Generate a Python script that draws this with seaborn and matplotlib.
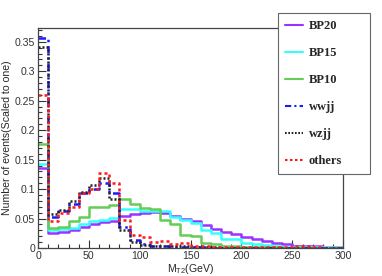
import numpy as np
import pandas as pd
import seaborn as sns
import matplotlib.pyplot as plt
from matplotlib.lines import Line2D
from matplotlib.ticker import MultipleLocator, FormatStrFormatter

# M_T2 histograms, 10 GeV bins from 0 to 300, each scaled to one
n_bins = 30
mt2_range = (0, 300)
bin_centers = np.arange(5, 300, 10)

bp20 = [0.136, 0.025, 0.028, 0.030, 0.036, 0.040, 0.044, 0.046, 0.055, 0.058,
        0.060, 0.061, 0.059, 0.055, 0.049, 0.045, 0.039, 0.032, 0.028, 0.024,
        0.019, 0.015, 0.012, 0.008, 0.006, 0.004, 0.003, 0.003, 0.002, 0.002]
bp15 = [0.142, 0.030, 0.033, 0.034, 0.040, 0.045, 0.048, 0.051, 0.066, 0.066,
        0.062, 0.062, 0.062, 0.053, 0.047, 0.042, 0.030, 0.025, 0.015, 0.015,
        0.009, 0.007, 0.005, 0.003, 0.002, 0.002, 0.001, 0.001, 0.001, 0.001]
bp10 = [0.177, 0.034, 0.036, 0.045, 0.053, 0.070, 0.069, 0.073, 0.084, 0.075,
        0.068, 0.066, 0.048, 0.040, 0.022, 0.021, 0.008, 0.007, 0.004, 0.003,
        0.002, 0.001, 0.001, 0.001, 0.000, 0.000, 0.000, 0.000, 0.000, 0.000]
wwjj = [0.356, 0.053, 0.062, 0.075, 0.093, 0.100, 0.111, 0.094, 0.035, 0.013,
        0.006, 0.004, 0.003, 0.002, 0.002, 0.001, 0.001, 0.000, 0.000, 0.000,
        0.000, 0.000, 0.000, 0.000, 0.000, 0.000, 0.000, 0.000, 0.000, 0.000]
wzjj = [0.341, 0.058, 0.065, 0.079, 0.095, 0.107, 0.119, 0.084, 0.030, 0.011,
        0.005, 0.004, 0.003, 0.003, 0.004, 0.002, 0.001, 0.001, 0.000, 0.000,
        0.000, 0.000, 0.000, 0.000, 0.000, 0.000, 0.000, 0.000, 0.000, 0.000]
others = [0.260, 0.046, 0.060, 0.070, 0.093, 0.100, 0.127, 0.110, 0.047, 0.022,
          0.018, 0.010, 0.012, 0.006, 0.009, 0.004, 0.003, 0.002, 0.002, 0.001,
          0.001, 0.001, 0.001, 0.001, 0.001, 0.003, 0.003, 0.001, 0.000, 0.000]

samples = ['BP20', 'BP15', 'BP10', 'wwjj', 'wzjj', 'others']
values = [bp20, bp15, bp10, wwjj, wzjj, others]
colors = ['#9933ff', '#33ffff', '#66cc55', '#1a1aff', '#222222', '#ff1a1a']
styles = ['-', '-', '-', (0, (3, 1.5, 1, 1.5)), (0, (0.8, 0.8)), (0, (1.2, 1.2))]

df = pd.DataFrame({
    'mt2': np.tile(bin_centers, len(samples)),
    'frac': np.concatenate(values),
    'proc': np.repeat(samples, len(bin_centers)),
})

sns.set_style('ticks')
plt.rcParams['font.family'] = ['Liberation Sans', 'DejaVu Sans']
plt.rcParams['mathtext.fontset'] = 'custom'
plt.rcParams['mathtext.rm'] = 'Liberation Sans'

fig = plt.figure(figsize=(3.82, 2.76), dpi=100)
ax = fig.add_axes([0.0995, 0.1014, 0.7990, 0.7972])

handles = []
for s, c, ls in zip(samples, colors, styles):
    sub = df[df['proc'] == s]
    sns.histplot(x=sub['mt2'].to_numpy(), weights=sub['frac'].to_numpy(),
                 bins=n_bins, binrange=mt2_range, element='step', fill=False,
                 color=c, linestyle=ls, linewidth=1.8, ax=ax)
    handles.append(Line2D([], [], color=c, linestyle=ls, linewidth=1.5, label=s))

ax.set_xlim(0, 300)
ax.set_ylim(0, 0.3734)
ax.xaxis.set_major_locator(MultipleLocator(50))
ax.xaxis.set_minor_locator(MultipleLocator(10))
ax.yaxis.set_major_locator(MultipleLocator(0.05))
ax.yaxis.set_minor_locator(MultipleLocator(0.01))
ax.yaxis.set_major_formatter(FormatStrFormatter('%g'))
ax.tick_params(which='both', direction='in', labelsize=7.6, colors='#333333',
               top=False, right=False, pad=2)
ax.tick_params(which='major', length=6, width=0.8)
ax.tick_params(which='minor', length=3, width=0.8)
for sp in ax.spines.values():
    sp.set_color('#444444')
    sp.set_linewidth(0.9)

ax.set_xlabel(r'M$_{\mathrm{T2}}$(GeV)', fontsize=7.6, labelpad=1)
ax.set_ylabel('Number of events(Scaled to one)', fontsize=7.6)
ax.yaxis.set_label_coords(-0.085, 0.5)

leg = fig.legend(handles=handles, loc='upper left',
                 bbox_to_anchor=(0.728, 0.373, 0.241, 0.58), mode='expand',
                 frameon=True, fancybox=False, framealpha=1, edgecolor='#666666',
                 prop={'family': 'Liberation Serif', 'weight': 'bold', 'size': 9},
                 handlelength=1.4, handletextpad=0.45, labelspacing=1.2,
                 borderpad=0.58, borderaxespad=0)
leg.get_frame().set_linewidth(0.8)

fig.savefig('out.png', dpi=100)
